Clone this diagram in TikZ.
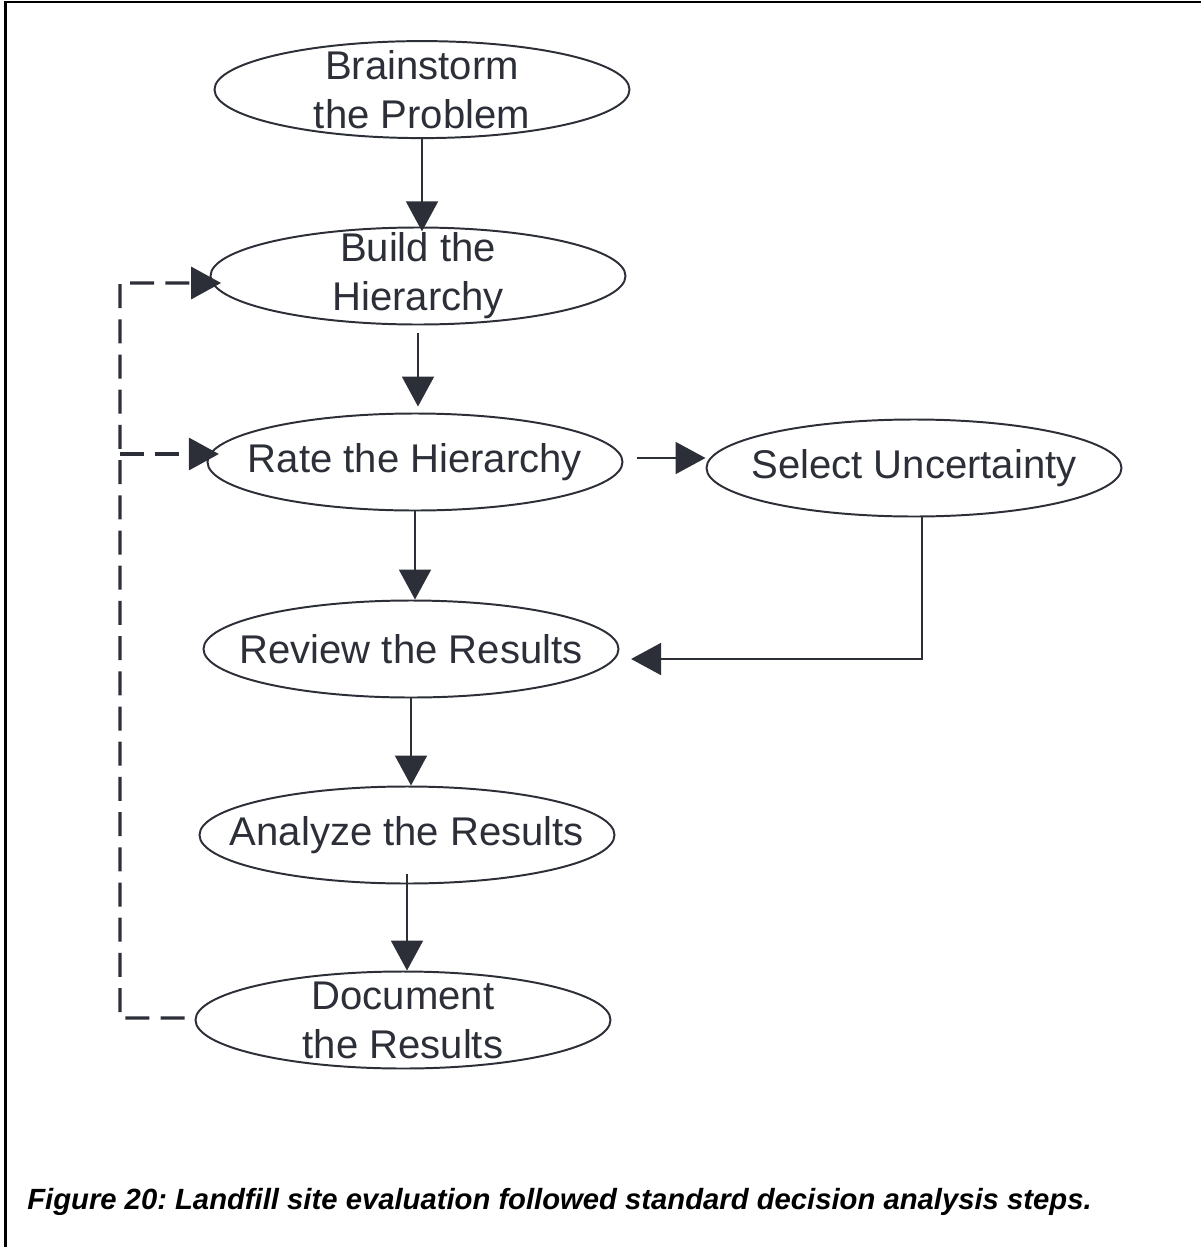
\documentclass[tikz,border=0pt]{standalone}
\usepackage{fontspec}
\setmainfont{Liberation Sans}
\usetikzlibrary{arrows.meta,shapes.geometric}
\definecolor{ink}{HTML}{2C2F37}

\begin{document}
\frenchspacing
\begin{tikzpicture}[
    >={Triangle[length=0.75cm,width=0.8cm]},
    stepnode/.style={draw=ink, line width=1.4pt, ellipse, inner sep=0pt,
                     minimum width=10.375cm, minimum height=2.425cm},
    steptext/.style={align=center, inner sep=0pt, text=ink,
                     font=\fontsize{28.5pt}{34.9pt}\selectfont},
    flow/.style={->, draw=ink, line width=1.4pt},
    back/.style={-{Triangle[length=0.75cm,width=0.8cm]}, draw=ink, line width=2.3pt,
                 dash pattern=on 0.6cm off 0.28cm},
    frame/.style={line width=2pt, black}]

  \useasboundingbox (0,0) rectangle (30.025,-31.175);

  % frame of the figure
  \draw[frame] (0.1375,-31.175) -- (0.1375,-0.05) -- (30.025,-0.05);

  % steps
  \node[stepnode] (brain)   at (10.55,-2.24)   {};
  \node[stepnode] (build)   at (10.45,-6.9)    {};
  \node[stepnode] (rate)    at (10.375,-11.55) {};
  \node[stepnode] (select)  at (22.85,-11.7)   {};
  \node[stepnode] (review)  at (10.275,-16.225){};
  \node[stepnode] (analyze) at (10.175,-20.875){};
  \node[stepnode] (doc)     at (10.075,-25.5)  {};

  \node[steptext] (brain-t)   at (brain)   {Brainstorm\\the Problem};
  \node[steptext] (build-t)   at (build)   {Build the\\Hierarchy};
  \node[steptext] (rate-t)    at (rate)    {Rate the Hierarchy};
  \node[steptext] (select-t)  at (select)  {Select Uncertainty};
  \node[steptext] (review-t)  at (review)  {Review the Results};
  \node[steptext] (analyze-t) at (analyze) {Analyze the Results};
  \node[steptext] (doc-t)     at (doc)     {Document\\the Results};

  % main flow
  \draw[flow] (brain.south) -- ([yshift=-0.12cm]brain.south |- build.north);
  \draw[flow, shorten <=0.2cm, shorten >=0.15cm] (build.south) -- (build.south |- rate.north);
  \draw[flow] (rate.south) -- (rate.south |- review.north);
  \draw[flow] (review.south) -- (review.south |- analyze.north);
  \draw[flow] ([yshift=0.25cm]analyze.south) -- (analyze.south |- doc.north);
  \draw[flow] ([xshift=0.33cm,yshift=0.1cm]rate.east) -- ([yshift=0.1cm]select.west |- rate.east);
  \draw[flow] ([xshift=0.2cm]select.south) |- ([xshift=0.29cm,yshift=-0.25cm]review.east);

  % loop back
  \coordinate (corner) at (3.0,-25.45);
  \coordinate (buildin) at ([xshift=0.29cm,yshift=-0.175cm]build.west);
  \coordinate (ratein) at ([xshift=0.31cm,yshift=0.2cm]rate.west);
  \draw[back] ([xshift=-0.25cm,yshift=0.05cm]doc.west) -- (corner) |- (buildin);
  \draw[back] (corner |- ratein) -- (ratein);

  \node[anchor=base west, inner sep=0pt,
        font=\fontsize{20.8pt}{25pt}\selectfont\bfseries\itshape] (caption)
    at (0.675,-30.225) {Figure 20: Landfill site evaluation followed standard decision analysis steps.};
\end{tikzpicture}
\end{document}
